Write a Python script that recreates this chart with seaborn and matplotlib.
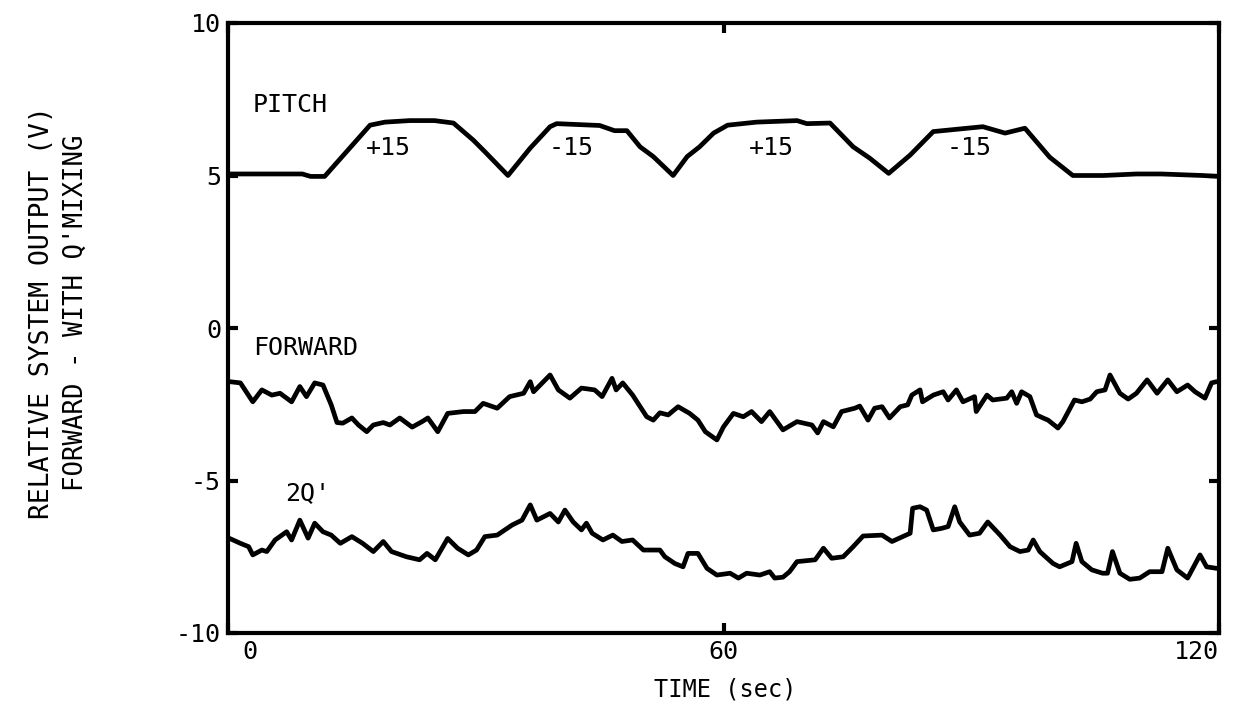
import numpy as np
import pandas as pd
import matplotlib
matplotlib.use("Agg")
import matplotlib.pyplot as plt
import seaborn as sns

# ---------------- data ----------------
pitch_t = [0, 9, 10, 11.7, 17.2, 19, 22, 25, 27.3, 29.7, 31.1, 33.9, 36.6, 39.0, 39.8,
           45.0, 46.8, 48.3, 49.9, 51.5, 53.9, 55.6, 57.1, 58.8, 60.5, 64.0, 68.9, 70.1,
           72.9, 75.7, 77.7, 80.0, 82.6, 85.4, 91.4, 94.1, 96.5, 99.5, 102.3, 106, 110, 113, 118, 120]
pitch_v = [5.05, 5.05, 4.97, 4.97, 6.65, 6.75, 6.8, 6.8, 6.72, 6.16, 5.78, 5.0, 5.9, 6.6, 6.7,
           6.64, 6.47, 6.47, 5.94, 5.62, 5.0, 5.62, 5.94, 6.39, 6.65, 6.75, 6.8, 6.7,
           6.72, 5.94, 5.57, 5.07, 5.67, 6.44, 6.6, 6.39, 6.55, 5.6, 5.0, 5.0, 5.05, 5.05, 5.0, 4.97]

fwd_t = [0.2, 1.5, 3.0, 4.1, 5.3, 6.3, 7.7, 8.7, 9.5, 10.5, 11.5, 12.5, 13.2, 13.9, 15.0, 15.8,
         16.8, 17.6, 18.8, 19.6, 20.8, 22.3, 23.5, 24.2, 25.4, 26.6, 28.5, 29.9, 30.9, 32.6,
         34.1, 35.8, 36.6, 37.0, 39.0, 40.0, 41.4, 42.8, 44.4, 45.3, 46.5, 47.0, 47.8, 49.0,
         50.7, 51.5, 52.3, 53.3, 54.5, 55.9, 56.9, 57.8, 59.2, 60.0, 61.2, 62.4, 63.4, 64.6,
         65.6, 67.2, 68.9, 70.7, 71.4, 72.1, 73.3, 74.3, 75.9, 76.5, 77.5, 78.3, 79.2, 80.1,
         81.4, 82.3, 82.8, 83.8, 84.1, 85.4, 86.6, 87.2, 88.2, 89.0, 90.4, 90.6, 91.9, 92.6,
         94.3, 94.9, 95.5, 96.1, 97.1, 97.9, 98.7, 99.3, 100.5, 101.1, 102.5, 103.4, 104.4,
         105.2, 106.2, 106.8, 108.0, 109.0, 110.0, 111.3, 112.5, 113.8, 114.9, 116.2, 117.1,
         118.3, 119.1, 119.7]
fwd_v = [-1.76, -1.8, -2.42, -2.03, -2.2, -2.14, -2.42, -1.92, -2.25, -1.8, -1.87, -2.52, -3.1,
         -3.12, -2.95, -3.18, -3.4, -3.18, -3.1, -3.18, -2.95, -3.25, -3.07, -2.95, -3.4, -2.8,
         -2.74, -2.74, -2.47, -2.63, -2.25, -2.14, -1.76, -2.09, -1.54, -2.03, -2.3, -1.97,
         -2.03, -2.25, -1.65, -2.03, -1.8, -2.2, -2.91, -3.02, -2.78, -2.85, -2.58, -2.8, -3.02,
         -3.4, -3.67, -3.24, -2.8, -2.91, -2.74, -3.07, -2.74, -3.34, -3.07, -3.18, -3.44,
         -3.07, -3.24, -2.74, -2.63, -2.56, -3.02, -2.63, -2.58, -2.95, -2.58, -2.52, -2.2,
         -2.03, -2.42, -2.2, -2.09, -2.36, -2.03, -2.42, -2.25, -2.74, -2.2, -2.36, -2.3,
         -2.09, -2.47, -2.09, -2.25, -2.85, -2.95, -3.02, -3.28, -3.07, -2.36, -2.42, -2.33,
         -2.09, -2.03, -1.54, -2.14, -2.33, -2.14, -1.7, -2.14, -1.7, -2.09, -1.87, -2.09,
         -2.3, -1.8, -1.76]

q_t = [0.2, 1.5, 2.5, 3.0, 4.1, 4.7, 5.7, 7.1, 7.7, 8.7, 9.7, 10.5, 11.5, 12.5, 13.6, 15.0,
       16.3, 17.6, 18.8, 19.8, 21.6, 23.2, 24.1, 25.1, 26.6, 27.8, 29.1, 30.1, 31.1, 32.6,
       34.4, 35.6, 36.6, 37.4, 39.0, 40.0, 40.8, 41.8, 42.8, 43.4, 44.1, 45.4, 46.6, 47.7,
       49.0, 50.3, 52.3, 52.9, 54.1, 55.1, 55.7, 56.9, 58.0, 59.2, 60.8, 61.8, 62.8, 64.4,
       65.6, 66.2, 67.2, 68.0, 68.9, 71.1, 72.1, 73.1, 74.5, 75.7, 76.9, 79.2, 80.4, 81.7,
       82.6, 82.9, 83.8, 84.6, 85.4, 86.4, 87.2, 88.0, 88.6, 89.8, 91.0, 92.0, 93.5, 94.7,
       95.9, 96.9, 97.5, 98.3, 99.9, 100.7, 102.2, 102.7, 103.4, 104.6, 105.9, 106.5, 107.1,
       108.0, 109.2, 110.4, 111.6, 113.1, 113.8, 114.9, 116.2, 117.7, 118.5, 119.7]
q_v = [-6.9, -7.06, -7.17, -7.44, -7.28, -7.33, -6.95, -6.68, -6.95, -6.3, -6.89, -6.4, -6.68,
       -6.79, -7.06, -6.84, -7.06, -7.33, -7.0, -7.33, -7.5, -7.6, -7.39, -7.6, -6.9, -7.22,
       -7.44, -7.28, -6.84, -6.79, -6.46, -6.3, -5.8, -6.3, -6.08, -6.36, -5.97, -6.36, -6.62,
       -6.4, -6.73, -6.95, -6.79, -7.0, -6.95, -7.28, -7.28, -7.5, -7.72, -7.83, -7.39, -7.39,
       -7.88, -8.1, -8.04, -8.2, -8.04, -8.1, -7.99, -8.2, -8.17, -7.99, -7.66, -7.6, -7.22,
       -7.55, -7.5, -7.17, -6.82, -6.79, -7.0, -6.84, -6.73, -5.91, -5.86, -5.97, -6.62,
       -6.57, -6.51, -5.86, -6.36, -6.79, -6.73, -6.36, -6.79, -7.17, -7.33, -7.28, -6.95,
       -7.33, -7.72, -7.83, -7.66, -7.06, -7.66, -7.93, -8.04, -8.04, -7.33, -8.04, -8.24,
       -8.2, -7.99, -7.99, -7.22, -7.93, -8.2, -7.44, -7.83, -7.88]

x_ticks = [0, 60, 120]
x_tick_labels = [" 0", "60", "120"]
y_ticks = [-10, -5, 0, 5, 10]
y_tick_labels = ["-10", "-5", "0", "5", "10"]
step_labels = ["+15", "-15", "+15", "-15"]
step_label_t = [19.4, 41.5, 65.8, 89.7]

# ---------------- plotting ----------------
sns.set_theme(style="white")
plt.rcParams["font.family"] = ["DejaVu Sans Mono", "DejaVu Sans"]
plt.rcParams["text.color"] = "black"
plt.rcParams["xtick.color"] = "black"
plt.rcParams["ytick.color"] = "black"

fig = plt.figure(figsize=(12.34, 7.13), dpi=100)
ax = fig.add_axes([228 / 1234, 1 - 633 / 713, (1219 - 228) / 1234, (633 - 23) / 713])

for t, v in [(pitch_t, pitch_v), (fwd_t, fwd_v), (q_t, q_v)]:
    df = pd.DataFrame({"t": t, "v": v})
    sns.lineplot(data=df, x="t", y="v", ax=ax, color="black", linewidth=3.4,
                 sort=False, estimator=None)

ax.set_xlim(0, 120)
ax.set_ylim(-10, 10)
ax.set_xticks(x_ticks)
ax.set_xticklabels(x_tick_labels, fontsize=18)
ax.set_yticks(y_ticks)
ax.set_yticklabels(y_tick_labels, fontsize=18)
xl = ax.get_xticklabels()
xl[0].set_horizontalalignment("left")
xl[-1].set_horizontalalignment("right")
ax.tick_params(axis="both", direction="in", length=7, width=3, color="black",
               labelcolor="black", top=True, right=True, bottom=True, left=True, pad=5)
for s in ax.spines.values():
    s.set_color("black")
    s.set_linewidth(3)
ax.set_xlabel("")
ax.set_ylabel("")

txt = dict(fontsize=18, color="black")
ax.text(3.0, 7.3, "PITCH", ha="left", va="center", **txt)
for lab, tt in zip(step_labels, step_label_t):
    ax.text(tt, 5.9, lab, ha="center", va="center", **txt)
ax.text(3.0, -0.66, "FORWARD", ha="left", va="center", **txt)
ax.text(6.9, -5.4, "2Q'", ha="left", va="center", **txt)

fig.text(725 / 1234, 1 - 690 / 713, "TIME (sec)", ha="center", va="center",
         fontsize=17, color="black")
fig.text(42 / 1234, 1 - 313 / 713, "RELATIVE SYSTEM OUTPUT (V)", rotation=90,
         ha="center", va="center", fontsize=19, color="black")
fig.text(76 / 1234, 1 - 313 / 713, "FORWARD - WITH Q'MIXING", rotation=90,
         ha="center", va="center", fontsize=18.5, color="black")

fig.savefig("out.png", dpi=100, facecolor="white")
